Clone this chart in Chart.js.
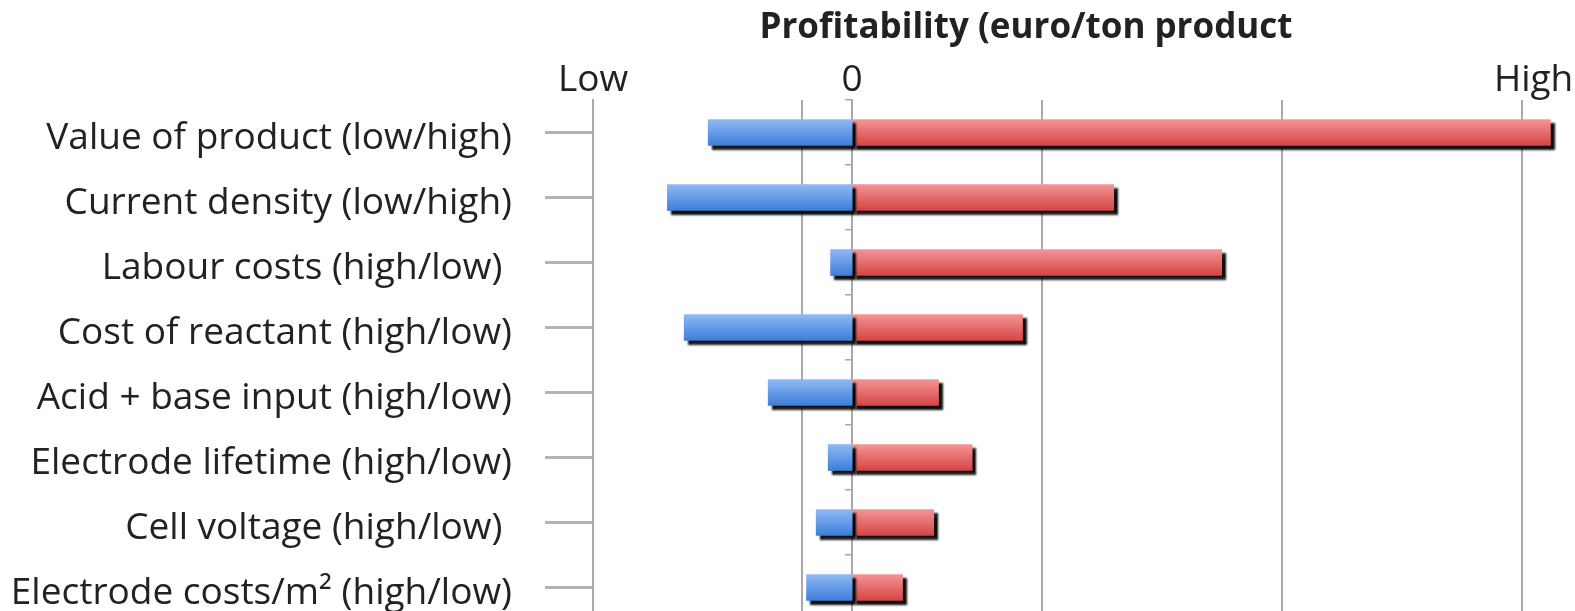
<!DOCTYPE html>
<html>
<head>
<meta charset="utf-8">
<script src="https://cdn.jsdelivr.net/npm/chart.js@4/dist/chart.umd.min.js"></script>
<style>
    html, body { margin: 0; padding: 0; background: #fff; overflow: hidden; }
    #wrap { width: 1575px; height: 625px; }
</style>
</head>
<body>
<div id="wrap"><canvas id="tornado"></canvas></div>
<script>
// Tornado chart data (units are arbitrary profitability units)
const categories = [
    'Value of product (low/high)',
    'Current density (low/high)',
    'Labour costs (high/low) ',
    'Cost of reactant (high/low)',
    'Acid + base input (high/low)',
    'Electrode lifetime (high/low)',
    'Cell voltage (high/low) ',
    'Electrode costs/m\u00B2 (high/low)'
];
const lowValues = [-60, -77, -9, -70, -35, -10, -15, -19];
const highValues = [291, 109, 154, 71, 36, 50, 34, 21];

// Axis
const axisMin = -108;
const axisMax = 300;
const gridValues = [-21, 79, 179, 279];
const topTickValues = [-108, 0, 284];
const topTickLabels = ['Low', '0', 'High'];
const chartTitle = 'Profitability (euro/ton product';

const textColor = '#222222';
const gridColor = '#a9a9a9';
const fontFamily = '"Open Sans", Lato, sans-serif';

// vertical gradient per bar
function barGradient(context, top, bottom, solid) {
    const chart = context.chart;
    if (!chart.chartArea || context.dataIndex === undefined) return solid;
    const y = chart.scales.y.getPixelForValue(context.dataIndex);
    const g = chart.ctx.createLinearGradient(0, y - 13, 0, y + 13);
    g.addColorStop(0, top);
    g.addColorStop(1, bottom);
    return g;
}

// black drop shadow under the bars
const barShadow = {
    id: 'barShadow',
    beforeDatasetsDraw(chart) {
        const ctx = chart.ctx;
        ctx.save();
        ctx.shadowColor = 'rgba(0,0,0,0.95)';
        ctx.shadowOffsetX = 4;
        ctx.shadowOffsetY = 4;
        ctx.shadowBlur = 2;
    },
    afterDatasetsDraw(chart) {
        chart.ctx.restore();
    }
};

// title placed over the plot
const titleText = {
    id: 'titleText',
    afterDraw(chart) {
        const ctx = chart.ctx;
        ctx.save();
        ctx.font = 'bold 35px ' + fontFamily;
        ctx.fillStyle = textColor;
        ctx.textAlign = 'center';
        ctx.textBaseline = 'middle';
        ctx.fillText(chartTitle, 1026, 28);
        ctx.restore();
    }
};

const ctx = document.getElementById('tornado').getContext('2d');
const tornado = new Chart(ctx, {
    type: 'bar',
    data: {
        labels: categories,
        datasets: [{
            label: 'Low',
            data: lowValues,
            backgroundColor: c => barGradient(c, '#8fb9f5', '#3d7dd8', '#5f95e4'),
            borderWidth: 0,
            barThickness: 26
        }, {
            label: 'High',
            data: highValues,
            backgroundColor: c => barGradient(c, '#f49494', '#d64545', '#e46a6a'),
            borderWidth: 0,
            barThickness: 26
        }]
    },
    options: {
        indexAxis: 'y',
        responsive: true,
        maintainAspectRatio: false,
        animation: false,
        layout: { padding: { top: 0, right: 3, bottom: 5, left: 0 } },
        plugins: {
            legend: { display: false },
            tooltip: { enabled: false }
        },
        scales: {
            x: {
                type: 'linear',
                stacked: true,
                min: axisMin,
                max: axisMax,
                afterBuildTicks: scale => {
                    scale.ticks = gridValues.map(v => ({ value: v }));
                },
                afterFit: scale => { scale.height = 0; },
                ticks: { display: false },
                grid: { color: gridColor, lineWidth: 2, drawTicks: false },
                border: { display: false }
            },
            x2: {
                type: 'linear',
                position: 'top',
                min: axisMin,
                max: axisMax,
                afterBuildTicks: scale => {
                    scale.ticks = topTickValues.map(v => ({ value: v }));
                },
                afterFit: scale => { scale.height = 100; },
                ticks: {
                    callback: (value, index) => topTickLabels[index],
                    font: { family: fontFamily, size: 37 },
                    color: textColor,
                    padding: -11,
                    maxRotation: 0,
                    autoSkip: false
                },
                grid: { display: false },
                border: { display: false }
            },
            y: {
                stacked: true,
                afterFit: scale => {
                    scale.width = 593;
                    scale.paddingTop = 0;
                    scale.paddingBottom = 0;
                },
                ticks: {
                    // empty first line nudges the label a few px down
                    callback: (value, index) => ['', categories[index]],
                    font: { family: fontFamily, size: 37, lineHeight: 0.3 },
                    color: textColor,
                    padding: 33
                },
                grid: {
                    drawOnChartArea: false,
                    offset: false,
                    tickLength: 48,
                    color: '#b4b4b4',
                    lineWidth: 3
                },
                border: { display: true, color: gridColor, width: 2 }
            },
            y2: {
                type: 'category',
                axis: 'y',
                position: { x: 0 },
                z: 1,
                afterFit: scale => {
                    scale.paddingTop = 0;
                    scale.paddingBottom = 0;
                },
                ticks: { display: false },
                grid: {
                    drawOnChartArea: false,
                    offset: true,
                    tickLength: 6,
                    color: gridColor,
                    lineWidth: 1.5
                },
                border: { display: true, color: gridColor, width: 2 }
            }
        }
    },
    plugins: [barShadow, titleText]
});
</script>
</body>
</html>
